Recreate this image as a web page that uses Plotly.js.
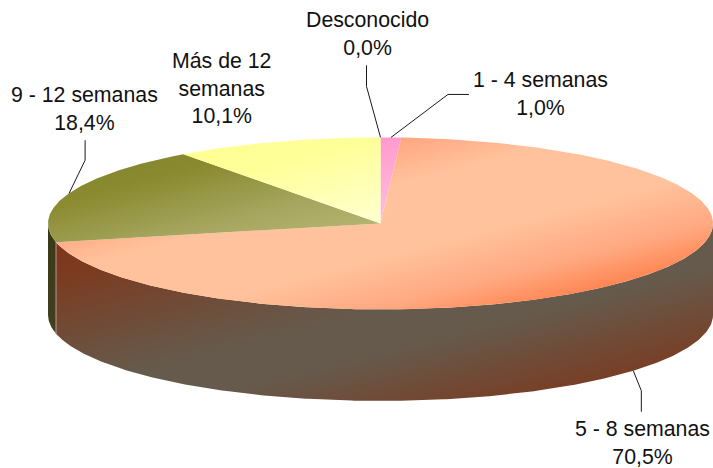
<!DOCTYPE html>
<html><head><meta charset="utf-8">
<script src="https://cdn.plot.ly/plotly-3.0.1.min.js"></script>
<style>html,body{margin:0;padding:0;background:#fff}#c{width:713px;height:468px}</style>
</head><body><div id="c"></div>
<script>
const categories = ['1 - 4 semanas','5 - 8 semanas','9 - 12 semanas','Más de 12<br>semanas','Desconocido'];
const values = [1.0, 70.5, 18.4, 10.1, 0.0];

// Pie projection (pixels = axis units)
const CX=380.5, CY=223.4, RX=332.5, RY=86, DEPTH=91.5;
const W=713, H=468;
const topScales = [
  [[0,'#ff90c8'],[0.25,'#ff99cc'],[0.5,'#ffbfdf'],[0.75,'#ff99cc'],[1,'#ff90c8']],
  [[0,'#ff8a60'],[0.25,'#ffa27c'],[0.4,'#ffc29c'],[0.6,'#ffc29c'],[0.75,'#ffa880'],[0.86,'#ff8450'],[1,'#ff7040']],
  [[0,'#80802a'],[0.2,'#8a8a30'],[0.38,'#a6a660'],[0.5,'#b4b470'],[0.75,'#8a8a30'],[1,'#80802a']],
  [[0,'#ffff90'],[0.25,'#ffff99'],[0.5,'#ffffd0'],[0.75,'#ffff99'],[1,'#ffff90']],
  [[0,'#ffff90'],[0.5,'#ffffcc'],[1,'#ffff90']]
];
const wallScales = [
  null,
  [[0,'#7e361a'],[0.1,'#7c3a1e'],[0.45,'#665a4c'],[0.58,'#665a4c'],[0.85,'#7a3c22'],[1,'#7e3618']],
  [[0,'#3a3a18'],[0.5,'#46462a'],[1,'#3a3a18']],
  null, null
];
const leaderOffsets = [ // elbow and label end relative to rim anchor
  [[57,-43],[78,-43]],
  [[8,20],[8,41]],
  [[16,-33],[16,-53]],
  null,
  [[-14,-51],[-14,-72]]
];
const labelPos = [[540,94],[642.5,442.5],[84.5,109],[221,88],[367,34]];

const rad=d=>d*Math.PI/180;
const px=a=>CX+RX*Math.sin(rad(a));
const py=(a,dz=0)=>CY-RY*Math.cos(rad(a))+dz;
function range(a,b){const r=[];for(let t=a;t<b;t+=0.5)r.push(t);r.push(b);return r;}

const total=values.reduce((s,v)=>s+v,0);
let acc=0;
const slices=values.map(v=>{const s=acc/total*360;acc+=v;return {a0:s,a1:acc/total*360,mid:(s+acc/total*360)/2};});

const traces=[];
const gradients=[];
function addFill(xs,ys,scale,bbox){
  traces.push({type:'scatter',mode:'lines',x:xs,y:ys,fill:'toself',line:{width:0},hoverinfo:'skip',
    fillgradient:{type:'vertical',colorscale:scale,start:bbox[1],stop:bbox[3]}});
  gradients.push(bbox);
}
const wallBox=[CX-RX,325-85,CX+RX,325+85], topBox=[CX-RX,CY-RY,CX+RX,CY+RY];
slices.forEach((s,i)=>{
  if(!wallScales[i])return;
  const a=Math.max(s.a0,90),b=Math.min(s.a1,270);
  if(b<=a)return;
  const t=range(a,b);
  addFill(t.map(px).concat(t.slice().reverse().map(px)),
          t.map(d=>py(d)).concat(t.slice().reverse().map(d=>py(d,DEPTH))),wallScales[i],wallBox);
});
slices.forEach((s,i)=>{
  if(s.a1<=s.a0)return;
  const t=range(s.a0,s.a1);
  addFill([CX].concat(t.map(px)),[CY].concat(t.map(d=>py(d))),topScales[i],topBox);
});
// pale seam at the wall joint
const seam=slices[1].a1;
traces.push({type:'scatter',mode:'lines',x:[px(seam),px(seam)],y:[py(seam),py(seam,DEPTH)],
  line:{color:'rgba(215,195,190,0.7)',width:1},hoverinfo:'skip'});
// leaders
slices.forEach((s,i)=>{
  const o=leaderOffsets[i]; if(!o)return;
  const a=s.mid, dz=(a>90&&a<270)?DEPTH:0;
  const x0=px(a), y0=py(a,dz);
  traces.push({type:'scatter',mode:'lines',x:[x0,x0+o[0][0],x0+o[1][0]],y:[y0,y0+o[0][1],y0+o[1][1]],
    line:{color:'#1a1a1a',width:1},hoverinfo:'skip'});
});
const annotations=categories.map((c,i)=>({
  xref:'x',yref:'y',x:labelPos[i][0],y:labelPos[i][1],showarrow:false,align:'center',
  xanchor:'center',yanchor:'middle',
  text:c+'<br>'+values[i].toFixed(1).replace('.',',')+'%',
  font:{family:'"Liberation Sans",Arial,sans-serif',size:21.3,color:'#111'}
}));
const layout={width:W,height:H,margin:{l:0,r:0,t:0,b:0},showlegend:false,paper_bgcolor:'#fff',plot_bgcolor:'#fff',
  xaxis:{range:[0,W],visible:false,fixedrange:true},yaxis:{range:[H,0],visible:false,fixedrange:true},annotations};
Plotly.newPlot('c',traces,layout,{displayModeBar:false,staticPlot:true}).then(()=>{
  // Turn the vertical gradients into the skewed diagonal of the pie's bounding box
  const fills=[...document.querySelectorAll('.scatterlayer .trace .js-fill')];
  let k=0;
  fills.forEach(el=>{
    const b=gradients[k++]; if(!b)return;
    const m=(el.style.fill||el.getAttribute('style')||'').match(/#([^"')]+)/);
    if(!m)return;
    const g=document.getElementById(m[1]); if(!g)return;
    const w=b[2]-b[0],h=b[3]-b[1],cx=(b[0]+b[2])/2,cy=(b[1]+b[3])/2;
    const L=Math.hypot(w,h),nx=h/L,ny=w/L,half=(w/2)*nx+(h/2)*ny;
    g.setAttribute('gradientUnits','userSpaceOnUse');
    g.setAttribute('x1',cx-half*nx);g.setAttribute('y1',cy-half*ny);
    g.setAttribute('x2',cx+half*nx);g.setAttribute('y2',cy+half*ny);
    g.removeAttribute('gradientTransform');
  });
});
</script></body></html>
